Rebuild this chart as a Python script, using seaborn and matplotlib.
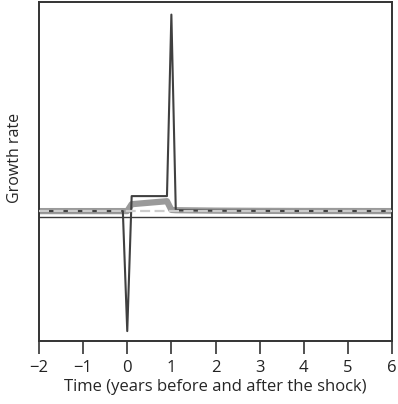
import matplotlib
matplotlib.use("Agg")
import matplotlib.pyplot as plt
import seaborn as sns
import pandas as pd

# Time (years relative to the shock)
time = [-2, -0.1, 0, 0.1, 0.9, 1.0, 1.1, 2, 3, 4, 5, 6]
# Growth path with an abrupt shock
shock_path = [2.0, 2.0, -38.0, 7.0, 7.0, 67.5, 2.3, 2.15, 2.08, 2.04, 2.02, 2.0]
# Smoothed growth path
smooth_path = [2.0, 2.0, 2.0, 4.3, 5.3, 2.4, 2.3, 2.15, 2.08, 2.04, 2.02, 2.0]
# Steady-state growth
steady_path = [2.0] * len(time)

xticks = [-2, -1, 0, 1, 2, 3, 4, 5, 6]

sns.set_style("white")
plt.rcParams["font.family"] = ["Open Sans", "DejaVu Sans"]

df = pd.DataFrame({"time": time, "shock": shock_path,
                   "smooth": smooth_path, "steady": steady_path})

fig = plt.figure(figsize=(3.98, 4.04), dpi=100)
ax = fig.add_axes([39 / 398, 1 - 341 / 404, (392 - 39) / 398, (341 - 2) / 404])

ax.axhline(0, color="#3a3a3a", lw=1.0, zorder=1)
sns.lineplot(data=df, x="time", y="smooth", ax=ax, color="#9a9a9a", lw=4.5,
             solid_capstyle="round", zorder=2)
sns.lineplot(data=df, x="time", y="shock", ax=ax, color="#404040", lw=1.5, zorder=3)
sns.lineplot(data=df, x="time", y="steady", ax=ax, color="#cccccc", lw=1.6, zorder=4)
ax.lines[-1].set_linestyle((0, (4.5, 2.0)))

ax.set_xlim(-2, 6)
ax.set_ylim(-41.3, 71.7)
ax.set_xticks(xticks)
ax.set_xticklabels([f"{v}".replace("-", "\u2212") for v in xticks], fontsize=12)
ax.set_yticks([])
ax.set_xlabel("Time (years before and after the shock)", fontsize=12, labelpad=2)
ax.set_ylabel("Growth rate", fontsize=11.5)
ax.yaxis.set_label_coords(-0.045, 0.54)

for side in ["left", "right", "top", "bottom"]:
    ax.spines[side].set_visible(True)
    ax.spines[side].set_color("#333333")
    ax.spines[side].set_linewidth(1.4)
ax.tick_params(axis="x", direction="out", length=9, width=1.2, color="#333333",
               bottom=True, pad=5, labelcolor="#222222")

fig.savefig("out.png", dpi=100)
